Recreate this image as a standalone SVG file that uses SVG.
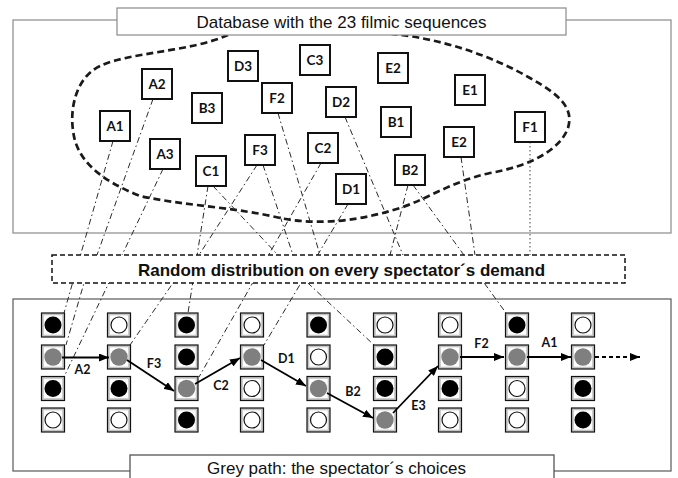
<svg xmlns="http://www.w3.org/2000/svg" xmlns:xlink="http://www.w3.org/1999/xlink" width="678" height="478" viewBox="0 0 678 478">
  <style>
    .frame { fill: none; stroke: #8a8a8a; stroke-width: 1.2; }
    .frame2 { fill: none; stroke: #666; stroke-width: 1.3; }
    .cap { fill: #fff; stroke: #8a8a8a; stroke-width: 1.2; }
    .cap2 { fill: #fff; stroke: #555; stroke-width: 1.3; }
    .cloud { fill: none; stroke: #1a1a1a; stroke-width: 2.7; stroke-dasharray: 7 4; }
    .link { fill: none; stroke: #2a2a2a; stroke-width: 1; stroke-dasharray: 6 3 1.5 3; }
    .dotted { fill: none; stroke: #444; stroke-width: 1; stroke-dasharray: 1.5 2.5; }
    .seq rect { fill: #fff; stroke: #111; stroke-width: 2; }
    .seq text, .step { font-family: Lato, "DejaVu Sans", sans-serif; font-weight: 700; text-anchor: middle; fill: #111; }
    .seq text { font-size: 13.5px; }
    .step { font-size: 12.5px; }
    .rand { fill: #fff; stroke: #111; stroke-width: 1.5; stroke-dasharray: 5 3; }
    .title { font-family: "Liberation Sans", Arial, sans-serif; font-size: 17px; text-anchor: middle; fill: #111; }
    .bold { font-weight: 700; }
    .move { fill: none; stroke: #000; stroke-width: 1.8; marker-end: url(#head); }
    .more { fill: none; stroke: #000; stroke-width: 1.8; stroke-dasharray: 4 3; marker-end: url(#head); }
  </style>
  <defs>
    <marker id="head" markerUnits="userSpaceOnUse" markerWidth="10" markerHeight="8" refX="10" refY="4" orient="auto">
      <path d="M0,0 L10,4 L0,8 z" fill="#000"/>
    </marker>
    <g id="frameCell">
      <rect x="-11.5" y="-12" width="23" height="24" fill="#c4c4c4" stroke="#111" stroke-width="1.2"/>
      <rect x="-9.2" y="-9.7" width="18.4" height="19.4" fill="#fff"/>
    </g>
    <g id="cellB"><use xlink:href="#frameCell"/><circle r="8.5" fill="#000"/></g>
    <g id="cellW"><use xlink:href="#frameCell"/><circle r="8" fill="#fff" stroke="#111" stroke-width="1.2"/></g>
    <g id="cellG"><use xlink:href="#frameCell"/><circle r="8.7" fill="#7f7f7f"/></g>
  </defs>

  <rect width="678" height="478" fill="#fff"/>

  <!-- database frame and the cloud of sequences -->
  <rect class="frame" x="13" y="20" width="658" height="213"/>
  <path class="cloud" d="M228,35 C190,52 130,52 100,66 C75,78 70,110 73,130 C76,160 100,180 140,196 C180,205 240,208 280,218 C310,224 350,224 400,208 C430,198 450,182 490,173 C530,166 560,150 568,128 C574,108 560,95 530,78 C490,55 440,38 385,33"/>

  <!-- player frame -->
  <rect class="frame2" x="13" y="299" width="658" height="172"/>

  <!-- connectors: sequences dealt out to the grid (hidden behind the distribution box in between) -->
  <g id="connectors">
    <line class="link" x1="113" y1="141" x2="64" y2="313"/>
    <polyline class="link" points="153,99 97,255 84,283 66,345"/>
    <line class="link" x1="163" y1="169" x2="64" y2="377"/>
    <polyline class="link" points="257,165 199,255 173,283 130,345"/>
    <line class="link" x1="263" y1="165" x2="293" y2="255"/>
    <line class="link" x1="208" y1="186" x2="188" y2="313"/>
    <polyline class="link" points="213,186 276,253 310,285 374,345"/>
    <line class="link" x1="321" y1="163" x2="199" y2="377"/>
    <line class="link" x1="278" y1="113" x2="320" y2="255"/>
    <line class="link" x1="345" y1="117" x2="403" y2="255"/>
    <line class="link" x1="348" y1="204" x2="264" y2="345"/>
    <line class="link" x1="408" y1="185" x2="390" y2="255"/>
    <line class="link" x1="413" y1="185" x2="506" y2="313"/>
    <line class="link" x1="461" y1="157" x2="475" y2="255"/>
    <line class="dotted" x1="530" y1="142" x2="530" y2="255"/>
  </g>

  <!-- the 23 sequences -->
  <g id="seq-A2" class="seq"><rect x="142" y="69" width="30" height="30"/><text x="157" y="89">A2</text></g>
  <g id="seq-A1" class="seq"><rect x="100" y="111" width="30" height="30"/><text x="115" y="131">A1</text></g>
  <g id="seq-D3" class="seq"><rect x="228" y="51" width="30" height="30"/><text x="243" y="71">D3</text></g>
  <g id="seq-C3" class="seq"><rect x="300" y="45" width="30" height="30"/><text x="315" y="65">C3</text></g>
  <g id="seq-B3" class="seq"><rect x="192" y="93" width="30" height="30"/><text x="207" y="113">B3</text></g>
  <g id="seq-F2" class="seq"><rect x="262" y="83" width="30" height="30"/><text x="277" y="103">F2</text></g>
  <g id="seq-A3" class="seq"><rect x="150" y="139" width="30" height="30"/><text x="165" y="159">A3</text></g>
  <g id="seq-C1" class="seq"><rect x="196" y="156" width="30" height="30"/><text x="211" y="176">C1</text></g>
  <g id="seq-F3" class="seq"><rect x="245" y="135" width="30" height="30"/><text x="260" y="155">F3</text></g>
  <g id="seq-C2" class="seq"><rect x="308" y="133" width="30" height="30"/><text x="323" y="153">C2</text></g>
  <g id="seq-D2" class="seq"><rect x="326" y="87" width="30" height="30"/><text x="341" y="107">D2</text></g>
  <g id="seq-E2a" class="seq"><rect x="378" y="53" width="30" height="30"/><text x="393" y="73">E2</text></g>
  <g id="seq-E1" class="seq"><rect x="455" y="75" width="30" height="30"/><text x="470" y="95">E1</text></g>
  <g id="seq-B1" class="seq"><rect x="381" y="107" width="30" height="30"/><text x="396" y="127">B1</text></g>
  <g id="seq-E2b" class="seq"><rect x="444" y="127" width="30" height="30"/><text x="459" y="147">E2</text></g>
  <g id="seq-F1" class="seq"><rect x="515" y="112" width="30" height="30"/><text x="530" y="132">F1</text></g>
  <g id="seq-B2" class="seq"><rect x="395" y="155" width="30" height="30"/><text x="410" y="175">B2</text></g>
  <g id="seq-D1" class="seq"><rect x="336" y="174" width="30" height="30"/><text x="351" y="194">D1</text></g>

  <!-- captions -->
  <g id="database-title">
    <rect class="cap" x="117" y="8" width="449" height="27"/>
    <text class="title" x="341.5" y="28">Database with the 23 filmic sequences</text>
  </g>
  <g id="random-distribution">
    <rect class="rand" x="52" y="255" width="573" height="28"/>
    <text class="title bold" x="341.5" y="276">Random distribution on every spectator´s demand</text>
  </g>

  <!-- grid of options: 9 steps x 4 choices -->
  <g id="grid">
    <g id="c1r1"><use xlink:href="#cellB" x="53" y="325"/></g>
    <g id="c1r2"><use xlink:href="#cellG" x="53" y="357"/></g>
    <g id="c1r3"><use xlink:href="#cellB" x="53" y="388.5"/></g>
    <g id="c1r4"><use xlink:href="#cellW" x="53" y="420"/></g>

    <g id="c2r1"><use xlink:href="#cellW" x="119" y="325"/></g>
    <g id="c2r2"><use xlink:href="#cellG" x="119" y="357"/></g>
    <g id="c2r3"><use xlink:href="#cellB" x="119" y="388.5"/></g>
    <g id="c2r4"><use xlink:href="#cellW" x="119" y="420"/></g>

    <g id="c3r1"><use xlink:href="#cellB" x="186.5" y="325"/></g>
    <g id="c3r2"><use xlink:href="#cellB" x="186.5" y="357"/></g>
    <g id="c3r3"><use xlink:href="#cellG" x="186.5" y="388.5"/></g>
    <g id="c3r4"><use xlink:href="#cellB" x="186.5" y="420"/></g>

    <g id="c4r1"><use xlink:href="#cellW" x="252" y="325"/></g>
    <g id="c4r2"><use xlink:href="#cellG" x="252" y="357"/></g>
    <g id="c4r3"><use xlink:href="#cellW" x="252" y="388.5"/></g>
    <g id="c4r4"><use xlink:href="#cellW" x="252" y="420"/></g>

    <g id="c5r1"><use xlink:href="#cellB" x="318.5" y="325"/></g>
    <g id="c5r2"><use xlink:href="#cellW" x="318.5" y="357"/></g>
    <g id="c5r3"><use xlink:href="#cellG" x="318.5" y="388.5"/></g>
    <g id="c5r4"><use xlink:href="#cellW" x="318.5" y="420"/></g>

    <g id="c6r1"><use xlink:href="#cellW" x="385" y="325"/></g>
    <g id="c6r2"><use xlink:href="#cellB" x="385" y="357"/></g>
    <g id="c6r3"><use xlink:href="#cellB" x="385" y="388.5"/></g>
    <g id="c6r4"><use xlink:href="#cellG" x="385" y="420"/></g>

    <g id="c7r1"><use xlink:href="#cellW" x="450" y="325"/></g>
    <g id="c7r2"><use xlink:href="#cellG" x="450" y="357"/></g>
    <g id="c7r3"><use xlink:href="#cellB" x="450" y="388.5"/></g>
    <g id="c7r4"><use xlink:href="#cellW" x="450" y="420"/></g>

    <g id="c8r1"><use xlink:href="#cellB" x="517" y="325"/></g>
    <g id="c8r2"><use xlink:href="#cellG" x="517" y="357"/></g>
    <g id="c8r3"><use xlink:href="#cellW" x="517" y="388.5"/></g>
    <g id="c8r4"><use xlink:href="#cellW" x="517" y="420"/></g>

    <g id="c9r1"><use xlink:href="#cellW" x="583" y="325"/></g>
    <g id="c9r2"><use xlink:href="#cellG" x="583" y="357"/></g>
    <g id="c9r3"><use xlink:href="#cellB" x="583" y="388.5"/></g>
    <g id="c9r4"><use xlink:href="#cellB" x="583" y="420"/></g>
  </g>

  <!-- the chosen path -->
  <g id="path">
    <line class="move" x1="62" y1="357.5" x2="109" y2="357.5"/>
    <line class="move" x1="127" y1="360" x2="174" y2="391"/>
    <line class="move" x1="195" y1="384" x2="240" y2="358"/>
    <line class="move" x1="261" y1="360" x2="306" y2="386"/>
    <line class="move" x1="327" y1="393" x2="373" y2="418"/>
    <line class="move" x1="393" y1="413" x2="438" y2="366"/>
    <line class="move" x1="460" y1="357" x2="504" y2="357"/>
    <line class="move" x1="527" y1="357" x2="571" y2="357"/>
    <line class="more" x1="595" y1="357" x2="640" y2="357"/>
    <text class="step" x="82.5" y="374">A2</text>
    <text class="step" x="154" y="368">F3</text>
    <text class="step" x="221" y="390">C2</text>
    <text class="step" x="286.5" y="363">D1</text>
    <text class="step" x="353" y="396">B2</text>
    <text class="step" x="418.5" y="410">E3</text>
    <text class="step" x="481.5" y="348">F2</text>
    <text class="step" x="549.5" y="347">A1</text>
  </g>

  <g id="path-caption">
    <rect class="cap2" x="130" y="455" width="424" height="40"/>
    <text class="title" x="336.5" y="474">Grey path: the spectator´s choices</text>
  </g>
</svg>
